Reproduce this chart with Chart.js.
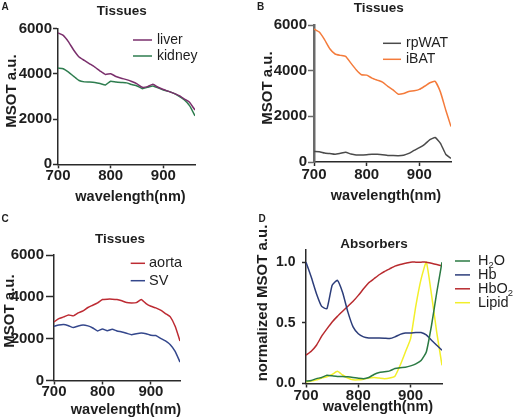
<!DOCTYPE html>
<html>
<head>
<meta charset="utf-8">
<script src="https://cdn.jsdelivr.net/npm/chart.js@4.4.0/dist/chart.umd.min.js"></script>
<style>
  body { margin: 0; background: #fff; }
  #wrap { position: relative; width: 514px; height: 419px; }
  canvas { position: absolute; }
</style>
</head>
<body>
<div id="wrap">
  <canvas id="panelA" width="257" height="210" style="left:0;top:0"></canvas>
  <canvas id="panelB" width="257" height="210" style="left:257px;top:0"></canvas>
  <canvas id="panelC" width="257" height="209" style="left:0;top:210px"></canvas>
  <canvas id="panelD" width="257" height="209" style="left:257px;top:210px"></canvas>
</div>
<script>
// wavelengths (nm)
const wavelength = [700, 710, 720, 730, 740, 750, 760, 770, 780, 790, 800, 810, 820, 830,
                    840, 850, 860, 870, 880, 890, 900, 910, 920, 930, 940, 950, 960];
const xTicks = [700, 800, 900];
const msotTicks = [0, 2000, 4000, 6000];
const normTicks = [0, 0.5, 1.0];

// A
const liver  = [5820, 5710, 5420, 5050, 4750, 4600, 4450, 4300, 4130, 3980, 4010, 3890, 3810, 3750,
                3665, 3560, 3410, 3440, 3545, 3410, 3310, 3230, 3140, 3040, 2890, 2740, 2400];
const kidney = [4260, 4230, 4080, 3890, 3710, 3650, 3640, 3620, 3575, 3515, 3680, 3640, 3620, 3605,
                3530, 3470, 3350, 3410, 3470, 3385, 3290, 3230, 3140, 3010, 2850, 2590, 2145];
// B
const rpWAT = [455, 450, 395, 370, 340, 380, 425, 350, 310, 305, 320, 340, 335, 320,
               290, 280, 275, 300, 380, 510, 630, 775, 980, 1070, 820, 340, 160];
const iBAT  = [5825, 5690, 5360, 4960, 4730, 4670, 4625, 4330, 4040, 3820, 3805, 3675, 3585, 3500,
               3310, 3160, 2970, 3000, 3090, 3120, 3180, 3320, 3470, 3530, 3060, 2280, 1550];
// C
const aorta = [2800, 2960, 3040, 3135, 3090, 3230, 3330, 3490, 3600, 3710, 3870, 3890, 3890, 3870,
               3810, 3725, 3710, 3725, 3870, 3680, 3550, 3470, 3360, 3200, 3040, 2590, 1890];
const sv    = [2590, 2655, 2680, 2620, 2530, 2610, 2655, 2610, 2510, 2370, 2465, 2380, 2450, 2370,
               2320, 2255, 2190, 2240, 2270, 2240, 2160, 2150, 2015, 1890, 1710, 1390, 880];
// D (normalized)
const h2o   = [0.02, 0.025, 0.04, 0.05, 0.068, 0.063, 0.058, 0.058, 0.055, 0.05, 0.044, 0.04, 0.05, 0.074,
               0.09, 0.096, 0.104, 0.123, 0.13, 0.134, 0.145, 0.162, 0.19, 0.26, 0.48, 0.75, 1.0];
const hb    = [1.0, 0.877, 0.74, 0.635, 0.616, 0.81, 0.85, 0.75, 0.59, 0.466, 0.41, 0.384, 0.375, 0.375,
               0.375, 0.373, 0.37, 0.384, 0.405, 0.416, 0.416, 0.42, 0.42, 0.40, 0.356, 0.315, 0.274];
const hbo2  = [0.233, 0.266, 0.315, 0.39, 0.45, 0.507, 0.553, 0.595, 0.636, 0.677, 0.726, 0.78, 0.83, 0.863,
               0.896, 0.923, 0.945, 0.967, 0.98, 0.99, 1.0, 1.0, 1.0, 1.0, 0.99, 0.98, 0.97];
const lipid = [0.014, 0.02, 0.03, 0.045, 0.055, 0.075, 0.10, 0.07, 0.045, 0.03, 0.03, 0.035, 0.045, 0.05,
               0.045, 0.04, 0.045, 0.06, 0.15, 0.26, 0.37, 0.64, 0.86, 1.0, 0.73, 0.42, 0.15];

const FONT = '"Liberation Sans", Arial, Helvetica, sans-serif';
const INK = '#1e1e1e';

// label with subscript digits (H2O, HbO2)
function drawLabel(ctx, text, x, y, size) {
  ctx.textAlign = 'left';
  text.split(/(\d)/).filter(Boolean).forEach(part => {
    const sub = /^\d$/.test(part);
    ctx.font = (sub ? size * 0.65 : size) + 'px ' + FONT;
    ctx.fillText(part, x, y + (sub ? size * 0.32 : 0));
    x += ctx.measureText(part).width;
  });
}

// panel letter, title, axis titles and inset legend
const panelDecor = {
  id: 'panelDecor',
  afterDraw(chart, args, o) {
    const ctx = chart.ctx;
    ctx.save();
    ctx.fillStyle = INK;
    ctx.textBaseline = 'middle';

    ctx.font = 'bold 10px ' + FONT;
    ctx.textAlign = 'left';
    ctx.fillText(o.letter, o.letterPos[0], o.letterPos[1]);

    ctx.font = 'bold 13.5px ' + FONT;
    ctx.textAlign = 'center';
    ctx.fillText(o.title, o.titlePos[0], o.titlePos[1]);

    ctx.font = 'bold 14.5px ' + FONT;
    ctx.fillText('wavelength(nm)', o.xTitlePos[0], o.xTitlePos[1]);

    ctx.save();
    ctx.translate(o.yTitlePos[0], o.yTitlePos[1]);
    ctx.rotate(-Math.PI / 2);
    ctx.font = 'bold 15px ' + FONT;
    ctx.fillText(o.yTitle, 0, 0);
    ctx.restore();

    const lg = o.legend;
    chart.data.datasets.forEach((ds, i) => {
      const y = lg.y + i * lg.dy;
      ctx.strokeStyle = ds.borderColor;
      ctx.lineWidth = 1.5;
      ctx.beginPath();
      ctx.moveTo(lg.x0, y);
      ctx.lineTo(lg.x1, y);
      ctx.stroke();
      ctx.fillStyle = INK;
      drawLabel(ctx, ds.label, lg.tx, y, lg.size);
    });
    ctx.restore();
  }
};

function makePanel(id, cfg) {
  const canvas = document.getElementById(id);
  const w = canvas.width, h = canvas.height;
  return new Chart(canvas, {
    type: 'line',
    data: {
      labels: wavelength,
      datasets: cfg.series.map(s => ({
        label: s.label,
        data: s.data,
        borderColor: s.color,
        borderWidth: 1.5,
        pointRadius: 0,
        tension: 0.15,
        fill: false
      }))
    },
    options: {
      responsive: false,
      animation: false,
      layout: { padding: { top: cfg.area.top, right: w - cfg.area.right, left: 0, bottom: 0 } },
      plugins: {
        legend: { display: false },
        tooltip: { enabled: false },
        panelDecor: cfg.decor
      },
      scales: {
        x: {
          type: 'linear',
          min: 700,
          max: 960,
          afterBuildTicks: s => { s.ticks = xTicks.map(v => ({ value: v })); },
          afterFit: s => { s.height = h - cfg.area.bottom; },
          ticks: {
            color: INK,
            padding: cfg.xPad,
            maxRotation: 0,
            font: { family: FONT, size: 15, weight: 'bold', lineHeight: 1 },
            callback: v => String(v)
          },
          grid: { drawOnChartArea: false, tickLength: 4, tickColor: '#2a2a2a', tickWidth: 1.5 },
          border: { color: '#2a2a2a', width: 1.5 }
        },
        y: {
          min: cfg.yMin,
          max: cfg.yMax,
          afterBuildTicks: s => { s.ticks = cfg.yTicks.map(v => ({ value: v })); },
          afterFit: s => { s.width = cfg.area.left; },
          ticks: {
            color: INK,
            padding: cfg.yPad,
            font: { family: FONT, size: cfg.ySize, weight: 'bold', lineHeight: 1 },
            callback: cfg.yFormat
          },
          grid: { drawOnChartArea: false, tickLength: cfg.yTick, tickColor: cfg.yAxisColor, tickWidth: 1.5 },
          border: { color: cfg.yAxisColor, width: cfg.yAxisWidth }
        }
      }
    },
    plugins: [panelDecor]
  });
}

makePanel('panelA', {
  series: [
    { label: 'liver', data: liver, color: '#7a2f6c' },
    { label: 'kidney', data: kidney, color: '#2e7d4f' }
  ],
  area: { left: 58, right: 195, top: 28.8, bottom: 164.3 },
  yMin: 0, yMax: 6000, yTicks: msotTicks, yFormat: v => String(v),
  ySize: 15, yPad: 1, yTick: 5, xPad: 0, yAxisColor: '#2a2a2a', yAxisWidth: 1.5,
  decor: {
    letter: 'A', letterPos: [1.5, 7.5],
    title: 'Tissues', titlePos: [121.7, 10.8],
    xTitlePos: [130.5, 197], yTitle: 'MSOT a.u.', yTitlePos: [12, 91],
    legend: { x0: 133, x1: 152, tx: 157, y: 40, dy: 16, size: 14 }
  }
});

makePanel('panelB', {
  series: [
    { label: 'rpWAT', data: rpWAT, color: '#4a4a4a' },
    { label: 'iBAT', data: iBAT, color: '#f47b3b' }
  ],
  area: { left: 57, right: 194, top: 25, bottom: 162 },
  yMin: 0, yMax: 6000, yTicks: msotTicks, yFormat: v => String(v),
  ySize: 15, yPad: 1, yTick: 6, xPad: 1, yAxisColor: '#6a6a6a', yAxisWidth: 2.5,
  decor: {
    letter: 'B', letterPos: [0, 7.5],
    title: 'Tissues', titlePos: [121.7, 7.8],
    xTitlePos: [129, 195.5], yTitle: 'MSOT a.u.', yTitlePos: [11, 88],
    legend: { x0: 126, x1: 144, tx: 149, y: 43.3, dy: 16, size: 14 }
  }
});

makePanel('panelC', {
  series: [
    { label: 'aorta', data: aorta, color: '#bd2b33' },
    { label: 'SV', data: sv, color: '#34478c' }
  ],
  area: { left: 54, right: 180, top: 45, bottom: 170.5 },
  yMin: 0, yMax: 6000, yTicks: msotTicks, yFormat: v => String(v),
  ySize: 15, yPad: 2, yTick: 8, xPad: 0, yAxisColor: '#2a2a2a', yAxisWidth: 1.5,
  decor: {
    letter: 'C', letterPos: [1.5, 9.5],
    title: 'Tissues', titlePos: [120, 29],
    xTitlePos: [126, 200], yTitle: 'MSOT a.u.', yTitlePos: [10, 101],
    legend: { x0: 130.7, x1: 145, tx: 149, y: 53.3, dy: 17.4, size: 14.5 }
  }
});

makePanel('panelD', {
  series: [
    { label: 'H2O', data: h2o, color: '#2b7a43' },
    { label: 'Hb', data: hb, color: '#2c3d7a' },
    { label: 'HbO2', data: hbo2, color: '#b82a2e' },
    { label: 'Lipid', data: lipid, color: '#f2ef2a' }
  ],
  area: { left: 49, right: 185, top: 40, bottom: 173.5 },
  yMin: 0, yMax: 1.1, yTicks: normTicks, yFormat: v => v.toFixed(1),
  ySize: 14, yPad: 6.5, yTick: 4, xPad: 1, yAxisColor: '#2a2a2a', yAxisWidth: 1.5,
  decor: {
    letter: 'D', letterPos: [1.5, 9],
    title: 'Absorbers', titlePos: [117, 34.5],
    xTitlePos: [121, 196.5], yTitle: 'normalized MSOT a.u.', yTitlePos: [5.5, 93],
    legend: { x0: 198, x1: 213, tx: 221, y: 51, dy: 13.9, size: 14.5 }
  }
});
</script>
</body>
</html>
